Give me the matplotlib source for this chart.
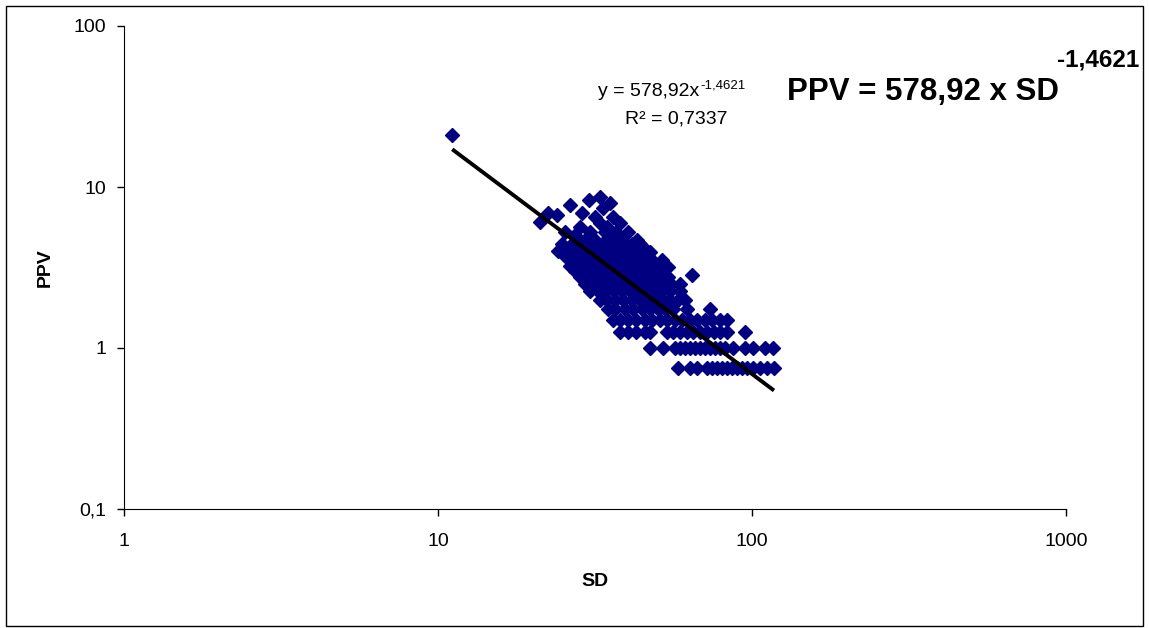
import numpy as np
import matplotlib
matplotlib.use('Agg')
import matplotlib.pyplot as plt
from matplotlib.patches import Rectangle

plt.rcParams['font.family'] = ['Liberation Sans', 'DejaVu Sans']

# SD values, grouped by PPV reading (PPV is in 0.25 steps)
row_075 = [58.1, 63.5, 66.8, 71.9, 74.6, 77.4, 80.3, 83.2, 86.4, 89.6, 92.9, 96.3, 100.7, 106.0, 111.6, 117.5]
row_100 = [47.3, 52.1, 56.9, 59.0, 61.2, 63.5, 65.8, 68.3, 70.8, 73.5, 76.2, 79.1, 82.0, 87.0, 95.0, 100.7, 110.0, 116.7]
row_125 = [38.0, 40.2, 42.7, 45.6, 47.3, 53.5, 56.2, 59.0, 62.0, 64.9, 68.3, 71.9, 75.6, 79.1, 83.2, 95.0]
row_150 = [36.0, 38.0, 40.2, 42.7, 45.6, 48.1, 50.9, 53.5, 56.9, 59.8, 63.5, 66.8, 70.8, 74.6, 79.1, 83.2]
row_175 = [34.9, 36.7, 39.5, 41.8, 44.6, 47.3, 50.3, 52.8, 56.2, 62.0, 73.5]
row_200 = [32.8, 34.6, 36.7, 38.9, 41.4, 44.0, 46.6, 49.5, 52.1, 54.8, 58.1, 61.2]
row_225 = [30.5, 32.4, 34.3, 36.4, 38.6, 40.8, 43.3, 45.9, 48.8, 51.7, 54.8, 59.0]
row_250 = [29.3, 31.0, 32.8, 34.9, 37.0, 39.2, 41.6, 44.0, 46.6, 49.5, 52.4, 55.4, 59.0]
row_275 = [28.3, 30.0, 31.8, 33.8, 35.7, 38.0, 40.2, 42.7, 45.2, 48.1, 50.9, 54.1]
row_300 = [27.3, 29.0, 30.8, 32.6, 34.6, 36.7, 38.9, 41.4, 43.7, 46.4, 49.2, 52.1]
row_325 = [26.3, 27.9, 29.6, 31.4, 33.3, 35.3, 37.5, 39.8, 42.2, 44.6, 47.3, 50.9]
row_350 = [26.7, 28.3, 30.0, 31.8, 33.8, 35.7, 38.0, 40.2, 42.7, 45.2, 48.1]
row_375 = [25.4, 27.3, 29.3, 31.0, 32.8, 34.9, 37.0, 39.2, 41.6, 44.0, 46.6]
row_400 = [24.1, 25.9, 27.9, 30.0, 32.1, 34.3, 36.4, 38.6, 40.8, 43.3, 45.9]
row_440 = [24.8, 26.7, 28.7, 31.0, 33.3, 35.7, 38.6, 41.6, 44.0]
rows = [(0.75, row_075), (1.0, row_100), (1.25, row_125), (1.5, row_150), (1.75, row_175),
        (2.0, row_200), (2.25, row_225), (2.5, row_250), (2.75, row_275), (3.0, row_300),
        (3.25, row_325), (3.5, row_350), (3.75, row_375), (4.0, row_400), (4.4, row_440)]

# scattered points in the upper part of the cloud
upper_sd = [11.1, 32.8, 30.2, 35.3, 26.3, 33.5, 22.4, 28.7, 23.9, 36.0, 31.6, 21.1, 38.0, 32.8,
            28.3, 34.6, 25.4, 40.2, 30.5, 34.0, 36.9, 27.3, 42.9, 29.3, 31.6, 35.3, 38.6,
            45.0, 47.3, 51.7, 54.1, 64.2]
upper_ppv = [21.0, 8.67, 8.3, 7.95, 7.73, 7.4, 6.9, 6.9, 6.7, 6.5, 6.5, 6.06, 6.0, 6.0,
             5.64, 5.64, 5.25, 5.25, 5.25, 5.25, 5.25, 5.0, 4.7, 4.7, 4.7, 4.7, 4.7,
             4.24, 3.95, 3.52, 3.19, 2.84]

# power trendline from the chart
fit_a = 578.92
fit_b = -1.4621

sd = list(upper_sd)
ppv = list(upper_ppv)
for level, xs in rows:
    sd += xs
    ppv += [level] * len(xs)
sd = np.array(sd)
ppv = np.array(ppv)

W, H = 1149, 628
fig = plt.figure(figsize=(W / 100, H / 100), dpi=100)
ax = fig.add_axes([124 / W, 1 - 509 / H, (1066 - 124) / W, (509 - 26) / H])

ax.plot(sd, ppv, ls='none', marker='D', ms=7, color='#000080', mec='#000080')
xf = np.geomspace(sd.min(), sd.max(), 200)
ax.plot(xf, fit_a * xf ** fit_b, color='black', lw=2.8, solid_capstyle='butt')

ax.set_xscale('log')
ax.set_yscale('log')
ax.set_xlim(1, 1000)
ax.set_ylim(0.1, 100)
ax.set_xticks([1, 10, 100, 1000])
ax.set_xticklabels(['1', '10', '100', '1000'])
ax.set_yticks([0.1, 1, 10, 100])
ax.set_yticklabels(['0,1', '1', '10', '100'])
ax.minorticks_off()
ax.tick_params(direction='out', length=5, width=1, labelsize=14)
ax.tick_params(axis='x', pad=12)
ax.tick_params(axis='y', pad=8)
ax.spines['top'].set_visible(False)
ax.spines['right'].set_visible(False)

ax.set_xlabel('SD', fontsize=14, fontweight='bold')
ax.xaxis.set_label_coords(0.5, -0.151)
ax.xaxis.label.set_va('center')
ax.set_ylabel('PPV', fontsize=14, fontweight='bold')
ax.yaxis.set_label_coords(-0.084, 0.5)
ax.yaxis.label.set_va('center')

# trendline labels
fig.canvas.draw()
r = fig.canvas.get_renderer()
t1 = fig.text(598 / W, 1 - 96 / H, 'y = 578,92x', fontsize=14, va='baseline')
bb = t1.get_window_extent(r)
fig.text(bb.x1 / W + 0.001, 1 - 88 / H, '-1,4621', fontsize=9.5, va='baseline')
fig.text(676 / W, 1 - 123 / H, 'R² = 0,7337', fontsize=14, va='baseline', ha='center')

fig.text(787 / W, 1 - 100 / H, 'PPV = 578,92 x SD', fontsize=22.5, fontweight='bold',
         va='baseline')
fig.text(1139 / W, 1 - 66 / H, '-1,4621', fontsize=17.5, fontweight='bold',
         va='baseline', ha='right')

fig.patches.append(Rectangle((6 / W, 2 / H), 1137 / W, 620 / H, transform=fig.transFigure,
                             fill=False, edgecolor='black', lw=1))

fig.savefig('out.png', dpi=100)
